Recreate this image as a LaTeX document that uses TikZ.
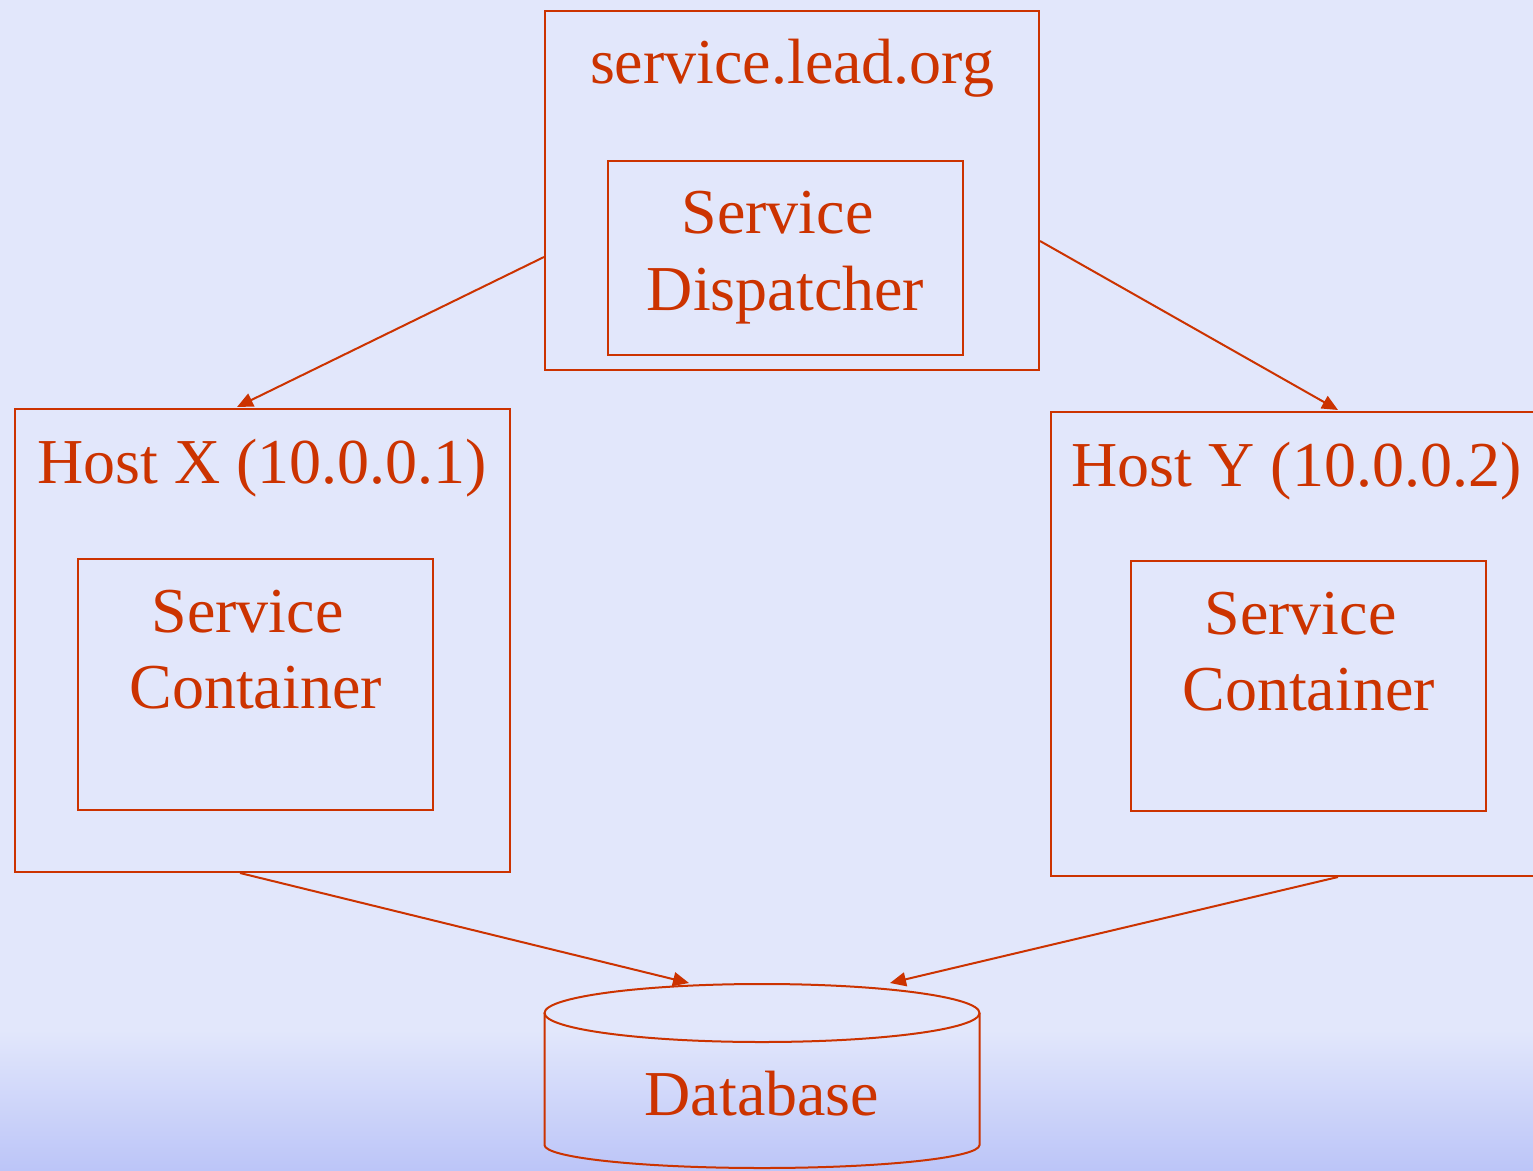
\documentclass[tikz,border=0pt]{standalone}
\usepackage{fontspec}
\setmainfont{Liberation Serif}
\usetikzlibrary{arrows.meta,calc}
\definecolor{ink}{RGB}{204,51,0}
\definecolor{bgtop}{RGB}{226,231,251}
\definecolor{bgbot}{RGB}{188,197,248}
\begin{document}
\begin{tikzpicture}[x=1pt,y=-1pt,
  box/.style={draw=ink,line width=2pt,inner sep=0pt,rectangle},
  lbl/.style={text=ink,inner sep=0pt,anchor=base,font=\fontsize{64}{75}\selectfont},
  link/.style={draw=ink,line width=2pt,-{Triangle[length=16pt,width=14pt]}}]
% canvas and background
\useasboundingbox (0,0) rectangle (1533,1170);
\clip (0,0) rectangle (1533,1170);
\fill[bgtop] (0,0) rectangle (1533,1170);
\shade[top color=bgtop,bottom color=bgbot] (0,1030) rectangle (1533,1170);

% dispatcher host
\node[box,minimum width=494pt,minimum height=359pt] (lead) at (792,190.5) {};
\node[lbl] (leadt) at (792,83) {service.lead.org};
\node[box,minimum width=355pt,minimum height=194pt] (disp) at (785.5,258) {};
\node[lbl] (disp1) at (777.5,233) {Service};
\node[lbl] (disp2) at (785.5,310) {Dispatcher};

% host X
\node[box,minimum width=495pt,minimum height=463pt] (hostx) at (262.5,640.5) {};
\node[lbl] (hostxt) at (262,483) {Host X (10.0.0.1)};
\node[box,minimum width=355pt,minimum height=251pt] (contx) at (255.5,684.5) {};
\node[lbl] (contx1) at (247.5,632) {Service};
\node[lbl] (contx2) at (255.5,708) {Container};

% host Y
\node[box,minimum width=500pt,minimum height=464pt] (hosty) at (1301,644) {};
\node[lbl] (hostyt) at (1296.5,486) {Host Y (10.0.0.2)};
\node[box,minimum width=355pt,minimum height=250pt] (conty) at (1308.5,686) {};
\node[lbl] (conty1) at (1300.5,634) {Service};
\node[lbl] (conty2) at (1308.5,710) {Container};

% database cylinder
\draw[ink,line width=2pt] (762,1013) ellipse[x radius=217.5pt,y radius=29pt];
\draw[ink,line width=2pt] (544.5,1013) -- (544.5,1145)
  arc[start angle=180,end angle=360,x radius=217.5pt,y radius=23pt] -- (979.5,1013);
\node[lbl] (db) at (762,1115) {Database};

% connector end points on the box edges
\coordinate (ls) at (lead.west |- 0,257);
\coordinate (rs) at (lead.east |- 0,241);
\coordinate (xin) at (237,407);
\coordinate (yin) at (1338,410);
\coordinate (xout) at (hostx.south -| 240,0);
\coordinate (yout) at (hosty.south -| 1338,0);
\coordinate (dbl) at (689,983);
\coordinate (dbr) at (890,983);

\draw[link] (ls) -- (xin);
\draw[link] (rs) -- (yin);
\draw[link] (xout) -- (dbl);
\draw[link] (yout) -- (dbr);
\end{tikzpicture}
\end{document}
